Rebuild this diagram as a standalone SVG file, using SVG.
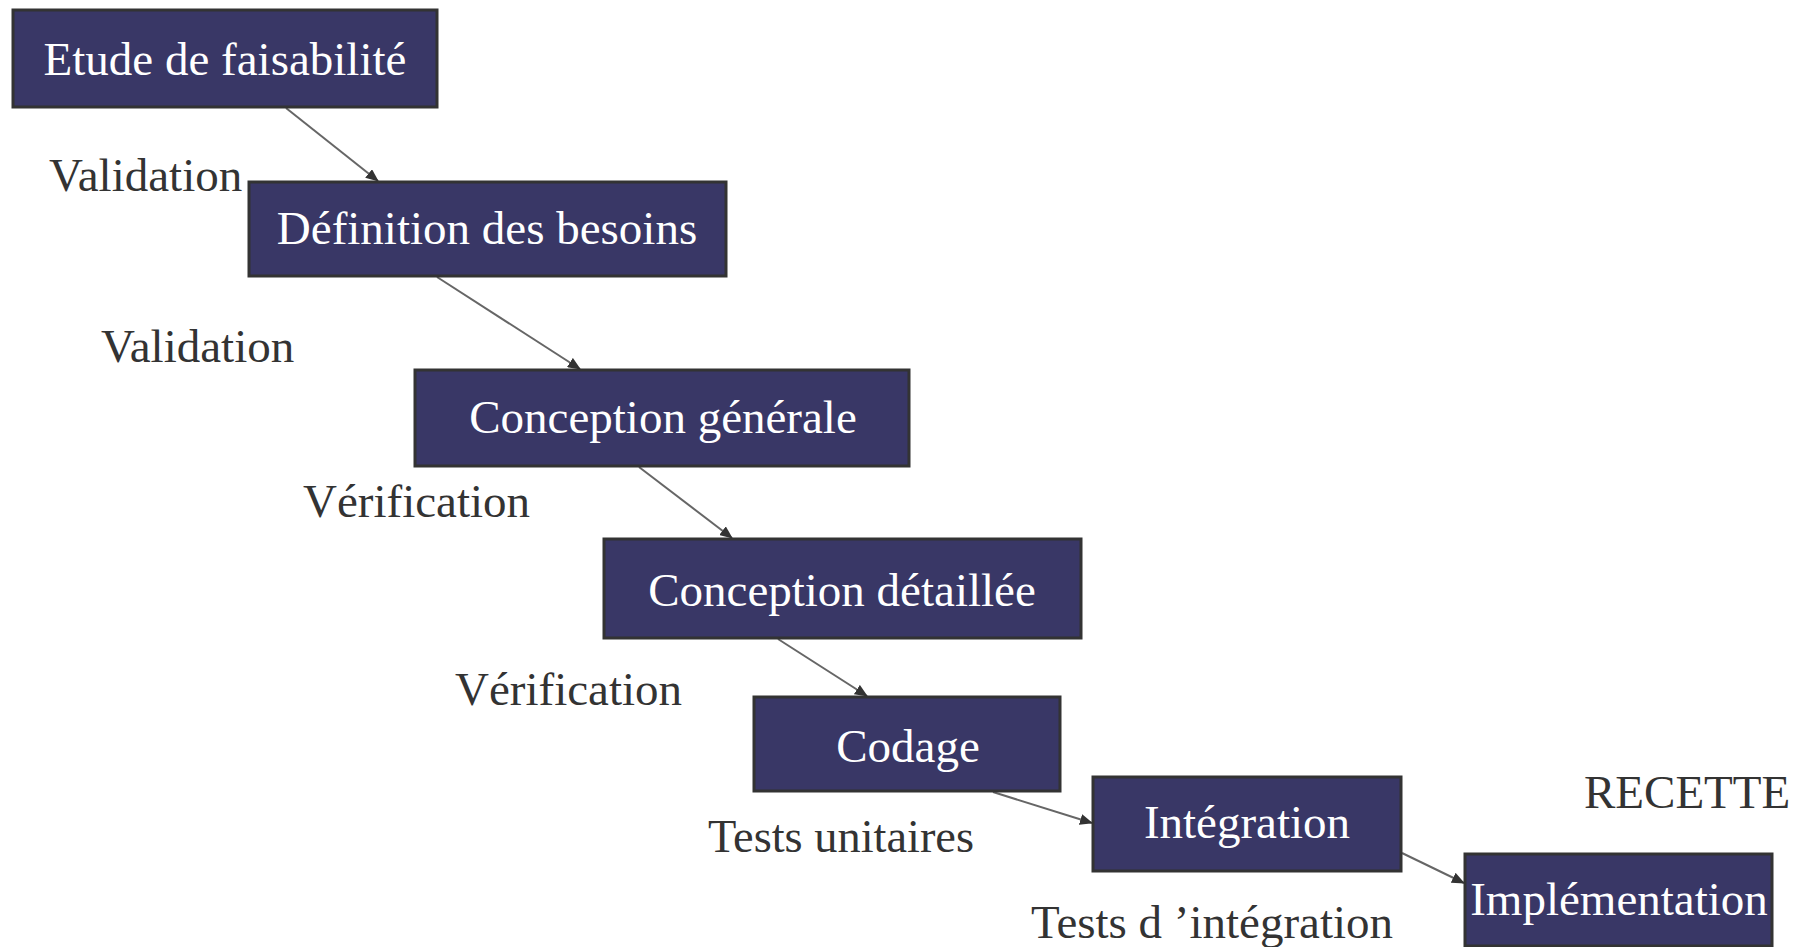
<svg xmlns="http://www.w3.org/2000/svg" width="1807" height="947" viewBox="0 0 1807 947">
<style>
.box{fill:#393766;stroke:#333333;stroke-width:3}
.bt{font-family:"Liberation Serif","Times New Roman",serif;font-size:47px;fill:#ffffff;text-anchor:middle}
.lb{font-family:"Liberation Serif","Times New Roman",serif;font-size:47px;fill:#333333}
.cn{stroke:#666666;stroke-width:2;fill:none;marker-end:url(#ah)}
</style>
<defs>
<marker id="ah" markerUnits="userSpaceOnUse" markerWidth="13" markerHeight="11" refX="12" refY="5.5" orient="auto">
<path d="M0,0 L13,5.5 L0,11 Z" fill="#333333"/>
</marker>
</defs>
<rect width="1807" height="947" fill="#ffffff"/>
<g id="connectors">
<line class="cn" x1="286" y1="108" x2="378" y2="181"/>
<line class="cn" x1="437" y1="277" x2="580" y2="369"/>
<line class="cn" x1="639" y1="467" x2="732" y2="538"/>
<line class="cn" x1="778" y1="639" x2="867" y2="696"/>
<line class="cn" x1="993" y1="792" x2="1092" y2="823"/>
<line class="cn" x1="1402" y1="853" x2="1464" y2="883"/>
</g>
<g id="n1"><rect class="box" x="13" y="10" width="424" height="97"/><text class="bt" x="225" y="75">Etude de faisabilité</text></g>
<g id="n2"><rect class="box" x="249" y="182" width="477" height="94"/><text class="bt" x="487" y="244">Définition des besoins</text></g>
<g id="n3"><rect class="box" x="415" y="370" width="494" height="96"/><text class="bt" x="663" y="433">Conception générale</text></g>
<g id="n4"><rect class="box" x="604" y="539" width="477" height="99"/><text class="bt" x="842" y="606">Conception détaillée</text></g>
<g id="n5"><rect class="box" x="754" y="697" width="306" height="94"/><text class="bt" x="908" y="762">Codage</text></g>
<g id="n6"><rect class="box" x="1093" y="777" width="308" height="94"/><text class="bt" x="1247" y="838">Intégration</text></g>
<g id="n7"><rect class="box" x="1465" y="854" width="307" height="92"/><text class="bt" x="1619" y="915">Implémentation</text></g>
<g id="labels">
<text class="lb" x="49" y="191">Validation</text>
<text class="lb" x="101" y="362">Validation</text>
<text class="lb" x="303" y="517">Vérification</text>
<text class="lb" x="455" y="705">Vérification</text>
<text class="lb" x="708" y="852" textLength="266" lengthAdjust="spacingAndGlyphs">Tests unitaires</text>
<text class="lb" x="1031" y="938" textLength="362" lengthAdjust="spacingAndGlyphs">Tests d ’intégration</text>
<text class="lb" x="1584" y="808">RECETTE</text>
</g>
</svg>
